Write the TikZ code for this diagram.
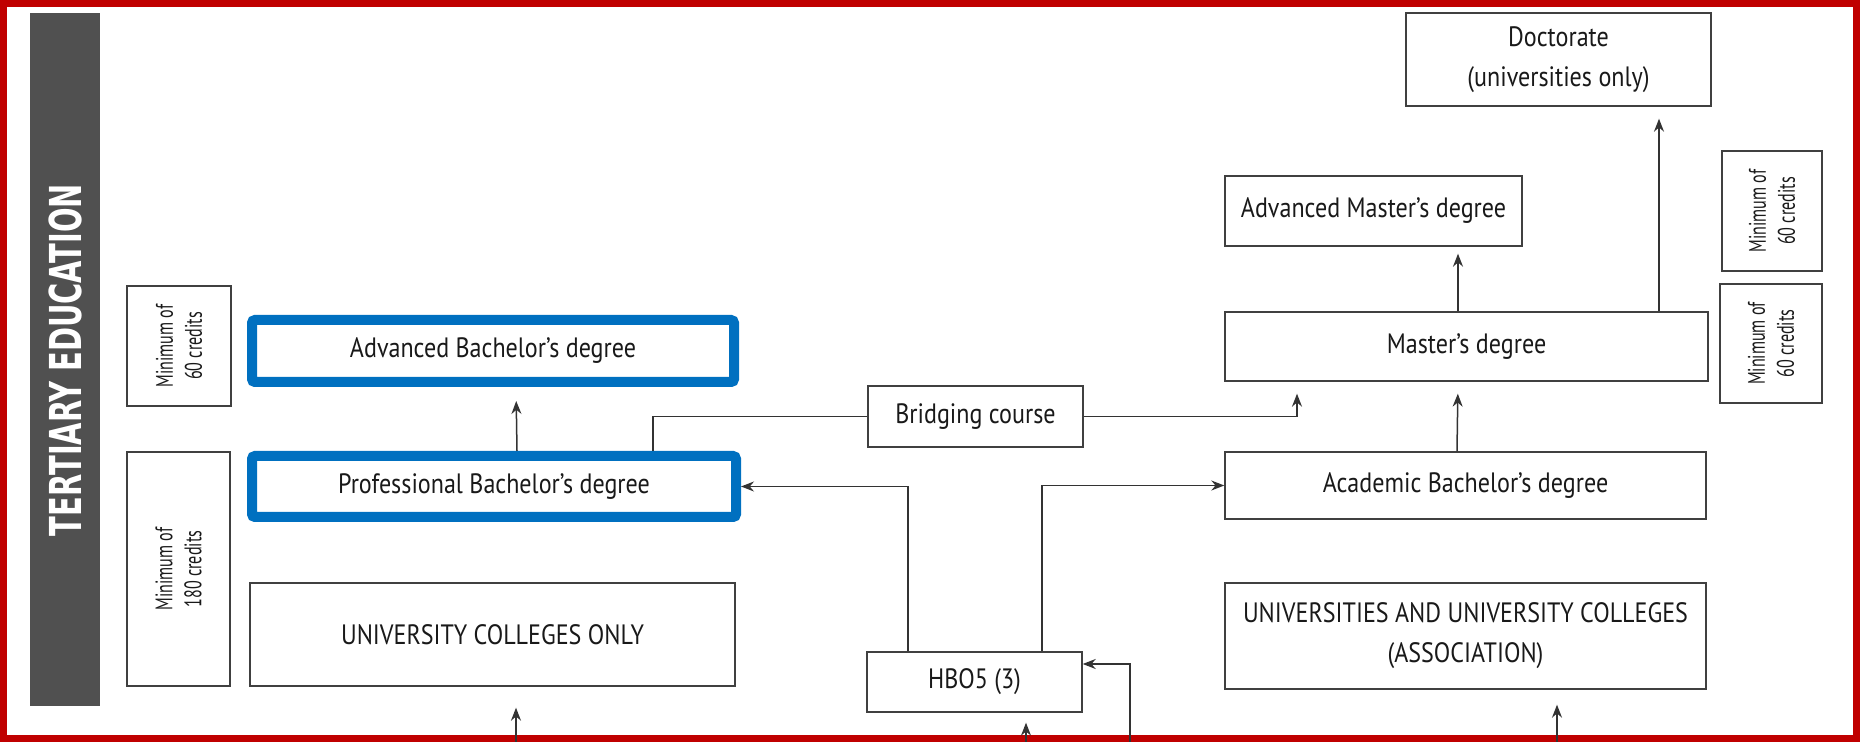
\documentclass[tikz,border=0pt]{standalone}
\usepackage{fontspec}
\setmainfont{PT Sans}[FakeStretch=0.86]
\newfontfamily\bandfont{DejaVu Sans Condensed}[FakeStretch=0.73]
\newfontfamily\creditfont{PT Sans}[FakeStretch=0.67]
\usepackage{tikz}
\usetikzlibrary{positioning,arrows.meta}
\definecolor{framered}{HTML}{C00000}
\definecolor{markblue}{HTML}{0070C0}
\definecolor{bandgray}{HTML}{505050}

\begin{document}
\begin{tikzpicture}[x=0.5pt, y=-0.5pt, thick,
    level/.style={rectangle, draw=black!75, line width=0.7pt, fill=white, align=center, inner sep=2pt, text=black!90, font=\fontsize{14}{20}\selectfont},
    chosen/.style={level, draw=markblue, line width=5pt, rounded corners=1.5pt},
    credits/.style={rectangle, draw=black!75, line width=0.7pt, rotate=90, align=center, inner sep=1pt, text=black!90, font=\creditfont\fontsize{12}{14.5}\selectfont},
    link/.style={draw=black!80, line width=0.75pt},
    arr/.style={link, -{Stealth[length=6.5pt,width=5pt]}}]

    \useasboundingbox (0,0) rectangle (1860,742);
    \draw[framered, line width=3.5pt] (3.5,3.5) rectangle (1856.5,738.5);

    % Define band and credit nodes
    \node[fill=bandgray, text=white, rotate=90, minimum width=346.5pt, minimum height=35pt, font=\bandfont\bfseries\fontsize{22}{22}\selectfont] (band) at (65,360) {TERTIARY EDUCATION};
    \node[credits, minimum width=60pt, minimum height=52pt] (minAB) at (179,346) {Minimum of\\60 credits};
    \node[credits, minimum width=117pt, minimum height=51.5pt] (minPB) at (178.5,569) {Minimum of\\180 credits};
    \node[credits, minimum width=60pt, minimum height=50pt] (minMA) at (1772,211) {Minimum of\\60 credits};
    \node[credits, minimum width=59.5pt, minimum height=51pt] (minMB) at (1771,343.5) {Minimum of\\60 credits};

    % Define level nodes
    \node[chosen, minimum width=241pt, minimum height=31pt] (advbach) at (493,351) {Advanced Bachelor's degree};
    \node[chosen, minimum width=242pt, minimum height=30.5pt] (profbach) at (494,486.5) {Professional Bachelor's degree};
    \node[level, minimum width=242.5pt, minimum height=51.5pt] (ucoll) at (492.5,634.5) {UNIVERSITY COLLEGES ONLY};
    \node[level, minimum width=107.5pt, minimum height=30.5pt] (bridge) at (975.5,416.5) {Bridging course};
    \node[level, minimum width=107.5pt, minimum height=30pt] (hbo) at (974.5,682) {HBO5 (3)};
    \node[level, minimum width=152.5pt, minimum height=46.5pt] (doct) at (1558.5,59.5) {Doctorate\\(universities only)};
    \node[level, minimum width=148.5pt, minimum height=35pt] (advmast) at (1373.5,211) {Advanced Master's degree};
    \node[level, minimum width=241.5pt, minimum height=34.5pt] (master) at (1466.5,346.5) {Master's degree};
    \node[level, minimum width=240.5pt, minimum height=33.5pt] (acad) at (1465.5,485.5) {Academic Bachelor's degree};
    \node[level, minimum width=240.5pt, minimum height=53pt] (univ) at (1465.5,636) {UNIVERSITIES AND UNIVERSITY COLLEGES\\(ASSOCIATION)};

    % Free ends at the bottom edge
    \coordinate (ucollin) at (516,742);
    \coordinate (hboin) at (1026,742);
    \coordinate (hboside) at (1130,742);
    \coordinate (univin) at (1557,742);
    \coordinate (mastup) at ([xshift=-4.25pt]master.north);
    \coordinate (doctup) at ([xshift=96.25pt]master.north);

    % Upward progression
    \draw[arr, shorten >=7pt] ([xshift=11.5pt]profbach.north) -- ([xshift=11.5pt]advbach.south);
    \draw[arr, shorten >=6pt] ([xshift=-4.25pt]acad.north) -- ([xshift=-4.25pt]master.south);
    \draw[arr, shorten >=3.5pt] (mastup) -- (mastup |- advmast.south);
    \draw[arr, shorten >=6pt] (doctup) -- (doctup |- doct.south);

    % Bridging course
    \draw[link] (bridge.west) -| ([xshift=79.5pt]profbach.north);
    \draw[arr, shorten >=6pt] (bridge.east) -| ([xshift=-84.75pt]master.south);

    % From HBO5
    \draw[arr] ([xshift=-33.25pt]hbo.north) |- (profbach.east);
    \draw[arr] ([xshift=33.75pt]hbo.north) |- (acad.west);

    % Entries from below
    \draw[arr, shorten >=10.5pt] (ucollin) -- (ucollin |- ucoll.south);
    \draw[arr, shorten >=5pt] (hboin) -- (hboin |- hbo.south);
    \draw[arr] (hboside) |- ([yshift=9pt]hbo.east);
    \draw[arr, shorten >=7.5pt] (univin) -- (univin |- univ.south);
\end{tikzpicture}
\end{document}
